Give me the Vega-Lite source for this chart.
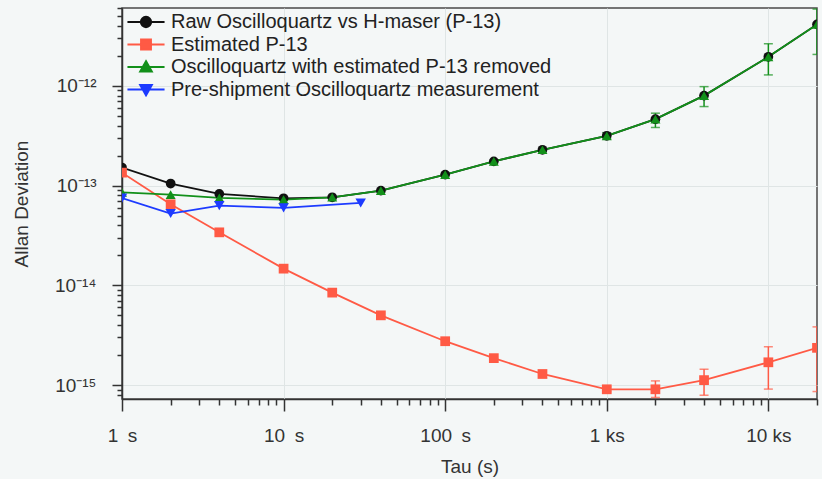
{
  "$schema": "https://vega.github.io/schema/vega-lite/v6.json",
  "width": 695,
  "height": 391,
  "autosize": "none",
  "padding": {"left": 122, "top": 8, "right": 5, "bottom": 80},
  "background": "#f4f7f7",
  "config": {
    "view": {"stroke": "#4a4a4a", "strokeWidth": 1.5},
    "font": "Liberation Sans",
    "legend": {
      "orient": "top-left",
      "offset": 2,
      "padding": 2,
      "labelFontSize": 20,
      "labelColor": "#222222",
      "labelLimit": 600,
      "symbolSize": 196,
      "symbolStrokeWidth": 1.8,
      "symbolOpacity": 1,
      "symbolOffset": 10,
      "labelOffset": 15,
      "rowPadding": 2.5
    }
  },
  "data": {
    "values": [
      {"series": "Raw Oscilloquartz vs H-maser (P-13)", "tau": 1, "adev": 1.52e-13},
      {"series": "Raw Oscilloquartz vs H-maser (P-13)", "tau": 2, "adev": 1.05e-13},
      {"series": "Raw Oscilloquartz vs H-maser (P-13)", "tau": 4, "adev": 8.26e-14},
      {"series": "Raw Oscilloquartz vs H-maser (P-13)", "tau": 10, "adev": 7.46e-14},
      {"series": "Raw Oscilloquartz vs H-maser (P-13)", "tau": 20, "adev": 7.64e-14},
      {"series": "Raw Oscilloquartz vs H-maser (P-13)", "tau": 40, "adev": 8.9e-14},
      {"series": "Raw Oscilloquartz vs H-maser (P-13)", "tau": 100, "adev": 1.29e-13},
      {"series": "Raw Oscilloquartz vs H-maser (P-13)", "tau": 200, "adev": 1.75e-13},
      {"series": "Raw Oscilloquartz vs H-maser (P-13)", "tau": 400, "adev": 2.29e-13},
      {"series": "Raw Oscilloquartz vs H-maser (P-13)", "tau": 1000, "adev": 3.16e-13},
      {"series": "Raw Oscilloquartz vs H-maser (P-13)", "tau": 2000, "adev": 4.64e-13},
      {"series": "Raw Oscilloquartz vs H-maser (P-13)", "tau": 4000, "adev": 8.0e-13},
      {"series": "Raw Oscilloquartz vs H-maser (P-13)", "tau": 10000, "adev": 1.96e-12},
      {"series": "Raw Oscilloquartz vs H-maser (P-13)", "tau": 20000, "adev": 4.14e-12},
      {"series": "Estimated P-13", "tau": 1, "adev": 1.35e-13},
      {"series": "Estimated P-13", "tau": 2, "adev": 6.5e-14},
      {"series": "Estimated P-13", "tau": 4, "adev": 3.4e-14},
      {"series": "Estimated P-13", "tau": 10, "adev": 1.47e-14},
      {"series": "Estimated P-13", "tau": 20, "adev": 8.45e-15},
      {"series": "Estimated P-13", "tau": 40, "adev": 5.0e-15},
      {"series": "Estimated P-13", "tau": 100, "adev": 2.75e-15},
      {"series": "Estimated P-13", "tau": 200, "adev": 1.86e-15},
      {"series": "Estimated P-13", "tau": 400, "adev": 1.29e-15},
      {"series": "Estimated P-13", "tau": 1000, "adev": 9.06e-16, "lo": 8.6e-16, "hi": 9.6e-16},
      {"series": "Estimated P-13", "tau": 2000, "adev": 9.06e-16, "lo": 7.5e-16, "hi": 1.1e-15},
      {"series": "Estimated P-13", "tau": 4000, "adev": 1.12e-15, "lo": 7.9e-16, "hi": 1.44e-15},
      {"series": "Estimated P-13", "tau": 10000, "adev": 1.69e-15, "lo": 9.1e-16, "hi": 2.42e-15},
      {"series": "Estimated P-13", "tau": 20000, "adev": 2.36e-15, "lo": 8.6e-16, "hi": 3.83e-15},
      {"series": "Oscilloquartz with estimated P-13 removed", "tau": 1, "adev": 8.57e-14},
      {"series": "Oscilloquartz with estimated P-13 removed", "tau": 2, "adev": 8.13e-14},
      {"series": "Oscilloquartz with estimated P-13 removed", "tau": 4, "adev": 7.53e-14},
      {"series": "Oscilloquartz with estimated P-13 removed", "tau": 10, "adev": 7.24e-14},
      {"series": "Oscilloquartz with estimated P-13 removed", "tau": 20, "adev": 7.64e-14},
      {"series": "Oscilloquartz with estimated P-13 removed", "tau": 40, "adev": 8.9e-14},
      {"series": "Oscilloquartz with estimated P-13 removed", "tau": 100, "adev": 1.29e-13},
      {"series": "Oscilloquartz with estimated P-13 removed", "tau": 200, "adev": 1.75e-13},
      {"series": "Oscilloquartz with estimated P-13 removed", "tau": 400, "adev": 2.29e-13},
      {"series": "Oscilloquartz with estimated P-13 removed", "tau": 1000, "adev": 3.16e-13, "lo": 2.95e-13, "hi": 3.4e-13},
      {"series": "Oscilloquartz with estimated P-13 removed", "tau": 2000, "adev": 4.64e-13, "lo": 3.83e-13, "hi": 5.33e-13},
      {"series": "Oscilloquartz with estimated P-13 removed", "tau": 4000, "adev": 8.0e-13, "lo": 6.21e-13, "hi": 9.84e-13},
      {"series": "Oscilloquartz with estimated P-13 removed", "tau": 10000, "adev": 1.96e-12, "lo": 1.29e-12, "hi": 2.65e-12},
      {"series": "Oscilloquartz with estimated P-13 removed", "tau": 20000, "adev": 4.14e-12, "lo": 2.07e-12, "hi": 5.9e-12},
      {"series": "Pre-shipment Oscilloquartz measurement", "tau": 1, "adev": 7.5e-14},
      {"series": "Pre-shipment Oscilloquartz measurement", "tau": 2, "adev": 5.25e-14},
      {"series": "Pre-shipment Oscilloquartz measurement", "tau": 4, "adev": 6.3e-14},
      {"series": "Pre-shipment Oscilloquartz measurement", "tau": 10, "adev": 5.98e-14},
      {"series": "Pre-shipment Oscilloquartz measurement", "tau": 30, "adev": 6.7e-14}
    ]
  },
  "encoding": {
    "x": {
      "field": "tau",
      "type": "quantitative",
      "title": "Tau (s)",
      "scale": {"type": "log", "domain": [1, 20000]},
      "axis": {
        "values": [1,2,3,4,5,6,7,8,9,10,20,30,40,50,60,70,80,90,100,200,300,400,500,600,700,800,900,1000,2000,3000,4000,5000,6000,7000,8000,9000,10000,20000],
        "labelExpr": "datum.value==1?'1\u2002s':datum.value==10?'10\u2002s':datum.value==100?'100\u2002s':datum.value==1000?'1 ks':datum.value==10000?'10 ks':''",
        "tickSize": {"condition": {"test": "indexof([1,10,100,1000,10000],datum.value)>=0", "value": 12}, "value": 6},
        "gridOpacity": {"condition": {"test": "indexof([10,100,1000,10000],datum.value)>=0", "value": 1}, "value": 0},
        "gridColor": "#dfe5e5",
        "domainColor": "#333333",
        "domainWidth": 1.5,
        "tickColor": "#333333",
        "tickWidth": 1.5,
        "labelFontSize": 19,
        "labelColor": "#333333",
        "labelPadding": 15,
        "labelFlush": false,
        "labelOverlap": false,
        "titleFontSize": 19,
        "titleFontWeight": "normal",
        "titleColor": "#333333",
        "titlePadding": 12
      }
    },
    "y": {
      "field": "adev",
      "type": "quantitative",
      "title": "Allan Deviation",
      "scale": {"type": "log", "domain": [7.24e-16, 6.05e-12]},
      "axis": {
        "values": [8e-16,9e-16,1e-15,2e-15,3e-15,4e-15,5e-15,6e-15,7e-15,8e-15,9e-15,1e-14,2e-14,3e-14,4e-14,5e-14,6e-14,7e-14,8e-14,9e-14,1e-13,2e-13,3e-13,4e-13,5e-13,6e-13,7e-13,8e-13,9e-13,1e-12,2e-12,3e-12,4e-12,5e-12,6e-12],
        "labelExpr": "datum.value==1e-12?'10⁻¹²':datum.value==1e-13?'10⁻¹³':datum.value==1e-14?'10⁻¹⁴':datum.value==1e-15?'10⁻¹⁵':''",
        "tickSize": {"condition": {"test": "indexof([1e-15,1e-14,1e-13,1e-12],datum.value)>=0", "value": 10}, "value": 5},
        "gridOpacity": {"condition": {"test": "indexof([1e-15,1e-14,1e-13,1e-12],datum.value)>=0", "value": 1}, "value": 0},
        "gridColor": "#dfe5e5",
        "domainColor": "#333333",
        "domainWidth": 1.5,
        "tickColor": "#333333",
        "tickWidth": 1.5,
        "labelFontSize": 19,
        "labelColor": "#333333",
        "labelPadding": 16,
        "labelOverlap": false,
        "labelFlush": false,
        "titleFontSize": 19,
        "titleFontWeight": "normal",
        "titleColor": "#333333",
        "titlePadding": 23
      }
    },
    "color": {
      "field": "series",
      "type": "nominal",
      "title": null,
      "scale": {
        "domain": ["Raw Oscilloquartz vs H-maser (P-13)", "Estimated P-13", "Oscilloquartz with estimated P-13 removed", "Pre-shipment Oscilloquartz measurement"],
        "range": ["#111111", "#ff5a45", "#12901a", "#1d3bff"]
      }
    }
  },
  "layer": [
    {
      "mark": {"type": "point", "filled": true, "opacity": 0, "size": 1},
      "encoding": {
        "stroke": {
          "field": "series",
          "type": "nominal",
          "title": null,
          "scale": {
            "domain": ["Raw Oscilloquartz vs H-maser (P-13)", "Estimated P-13", "Oscilloquartz with estimated P-13 removed", "Pre-shipment Oscilloquartz measurement"],
            "range": ["#111111", "#ff5a45", "#12901a", "#1d3bff"]
          }
        },
        "shape": {
          "field": "series",
          "type": "nominal",
          "title": null,
          "scale": {
            "domain": ["Raw Oscilloquartz vs H-maser (P-13)", "Estimated P-13", "Oscilloquartz with estimated P-13 removed", "Pre-shipment Oscilloquartz measurement"],
            "range": [
              "M-2.65,0H2.65M-0.75,0A0.75,0.75 0 1,0 0.75,0A0.75,0.75 0 1,0 -0.75,0Z",
              "M-2.65,0H2.65M-0.72,-0.72H0.72V0.72H-0.72Z",
              "M-2.65,0H2.65M0,-0.85L0.85,0.65H-0.85Z",
              "M-2.65,0H2.65M0,0.85L0.85,-0.65H-0.85Z"
            ]
          }
        }
      }
    },
    {
      "mark": {"type": "line", "strokeWidth": 1.8, "clip": true}
    },
    {
      "transform": [{"filter": "datum.lo != null"}],
      "mark": {"type": "rule", "strokeWidth": 1.5, "clip": true},
      "encoding": {
        "y": {"field": "lo", "type": "quantitative", "title": "Allan Deviation", "scale": {"type": "log", "domain": [7.24e-16, 6.05e-12]}},
        "y2": {"field": "hi"}
      }
    },
    {
      "transform": [{"filter": "datum.lo != null"}],
      "mark": {"type": "tick", "orient": "horizontal", "size": 9, "thickness": 1.5, "clip": true},
      "encoding": {
        "y": {"field": "lo", "type": "quantitative", "title": "Allan Deviation", "scale": {"type": "log", "domain": [7.24e-16, 6.05e-12]}}
      }
    },
    {
      "transform": [{"filter": "datum.hi != null"}],
      "mark": {"type": "tick", "orient": "horizontal", "size": 9, "thickness": 1.5, "clip": true},
      "encoding": {
        "y": {"field": "hi", "type": "quantitative", "title": "Allan Deviation", "scale": {"type": "log", "domain": [7.24e-16, 6.05e-12]}}
      }
    },
    {
      "transform": [{"filter": "datum.series == 'Raw Oscilloquartz vs H-maser (P-13)'"}],
      "mark": {"type": "point", "shape": "circle", "filled": true, "size": 95, "opacity": 1, "clip": true}
    },
    {
      "transform": [{"filter": "datum.series == 'Estimated P-13'"}],
      "mark": {"type": "point", "shape": "square", "filled": true, "size": 95, "opacity": 1, "clip": true}
    },
    {
      "transform": [{"filter": "datum.series == 'Oscilloquartz with estimated P-13 removed'"}],
      "mark": {"type": "point", "shape": "triangle-up", "filled": true, "size": 100, "opacity": 1, "clip": true}
    },
    {
      "transform": [{"filter": "datum.series == 'Pre-shipment Oscilloquartz measurement'"}],
      "mark": {"type": "point", "shape": "triangle-down", "filled": true, "size": 110, "opacity": 1, "clip": true}
    }
  ]
}
